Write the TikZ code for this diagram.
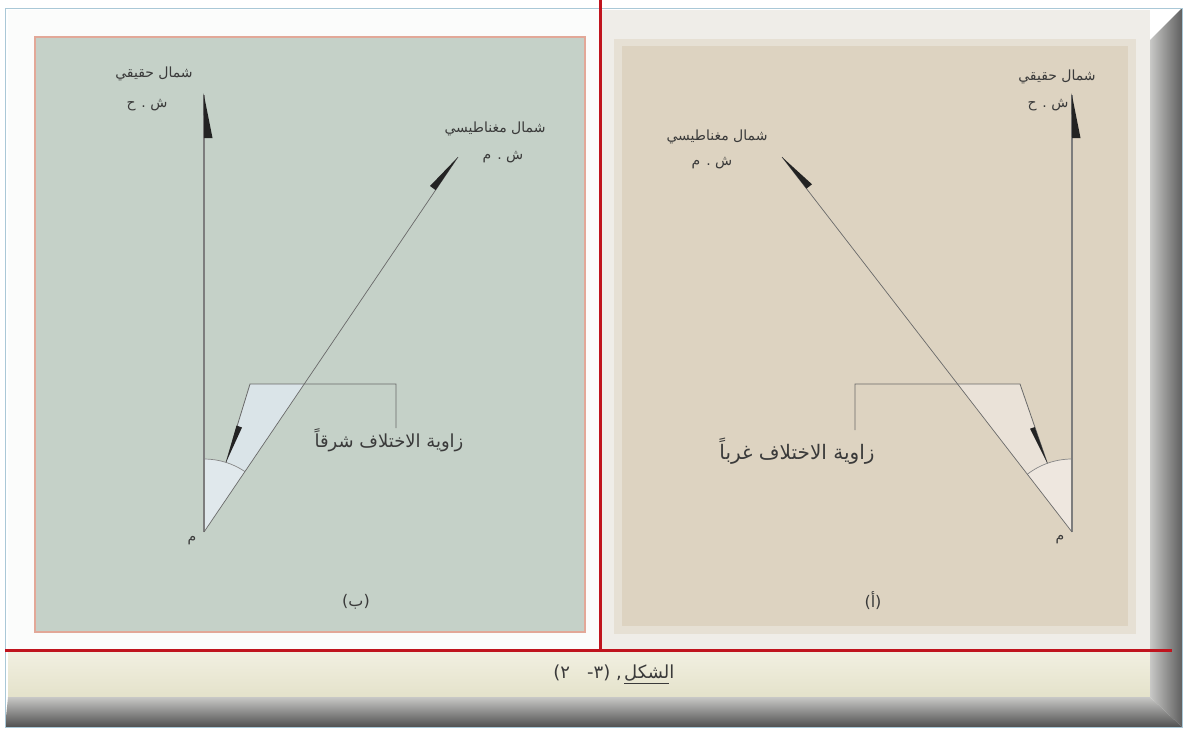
\documentclass[tikz,border=0pt]{standalone}
\usepackage{fontspec}
\usetikzlibrary{calc}
\TeXXeTstate=1
\newfontfamily\arabicfont[Script=Arabic]{DejaVu Sans}
\newfontfamily\punctfont{DejaVu Sans}
\definecolor{panelL}{RGB}{197,209,200}
\definecolor{panelLborder}{RGB}{226,168,152}
\definecolor{panelR}{RGB}{221,211,193}
\definecolor{panelRrim}{RGB}{230,224,212}
\definecolor{bgL}{RGB}{251,252,251}
\definecolor{bgR}{RGB}{239,237,232}
\definecolor{redline}{RGB}{192,20,30}
\definecolor{wedgeL}{RGB}{218,228,232}
\definecolor{wedgeLs}{RGB}{224,232,236}
\definecolor{wedgeR}{RGB}{234,226,216}
\definecolor{wedgeRs}{RGB}{238,231,223}
\definecolor{linegray}{RGB}{105,105,105}
\definecolor{northgray}{RGB}{125,125,125}
\definecolor{txt}{RGB}{58,58,58}
\definecolor{headcol}{RGB}{35,35,35}
\definecolor{cream1}{RGB}{242,240,226}
\definecolor{cream2}{RGB}{228,226,202}
\definecolor{bevel1}{RGB}{200,200,198}
\definecolor{bevel2}{RGB}{95,95,95}
\definecolor{bevel3}{RGB}{80,80,80}
\definecolor{frameblue}{RGB}{170,200,215}
\begin{document}
\begin{tikzpicture}[x=1pt,y=-1pt,
  lbl/.style={text=txt, font=\arabicfont\fontsize{14}{16}\selectfont, inner sep=0pt},
  anglbl/.style={text=txt, font=\arabicfont\fontsize{18}{20}\selectfont, inner sep=0pt},
  biglbl/.style={text=txt, font=\arabicfont\fontsize{16}{18}\selectfont, inner sep=0pt},
  caplbl/.style={text=txt, font=\arabicfont\fontsize{18}{20}\selectfont, inner sep=0pt},
  northline/.style={draw=northgray, line width=1.2pt},
  magline/.style={draw=linegray, line width=0.7pt},
  leadline/.style={draw=linegray, line width=0.8pt},
  arcline/.style={draw=linegray!80, line width=0.7pt},
  headfill/.style={fill=headcol},
  redrule/.style={draw=redline, line width=3pt}
]
\useasboundingbox (0,0) rectangle (1186,731);
\fill[white] (0,0) rectangle (1186,731);
% faces
\fill[bgL] (8,10) rectangle (600,650);
\fill[bgR] (600,10) rectangle (1150,650);
\shade[top color=cream1,bottom color=cream2] (8,650) rectangle (1150,697);
% bevels
\shade[left color=bevel1,right color=bevel2] (1150,40) -- (1182,8) -- (1182,727) -- (1150,697) -- cycle;
\shade[top color=bevel1,bottom color=bevel3] (8,697) -- (1150,697) -- (1182,727) -- (5,727) -- cycle;
\draw[frameblue, line width=1pt] (5,8) rectangle (1182,727);

% panels
\fill[panelRrim] (614,39) rectangle (1136,634);
\fill[panelR] (622,46) rectangle (1128,626);
\fill[panelL] (35,37) rectangle (585,632);
\draw[panelLborder, line width=1.5pt] (35,37) rectangle (585,632);

% red rules
\coordinate (rv1) at (600,0);
\coordinate (rv2) at (600,650);
\coordinate (rh1) at (5,650);
\coordinate (rh2) at (1172,650);
\draw[redrule] (rv1) -- (rv2);
\draw[redrule] (rh1) -- (rh2);

%%%% LEFT DIAGRAM (b)
\coordinate (O1) at (204,532);
\coordinate (T1) at (204,95);
\coordinate (M1) at (458,157);
\coordinate (B1a) at (396,428);
\coordinate (B1b) at (396,384);
\coordinate (B1c) at (250,384);
\coordinate (L1) at (226,462.4);
\coordinate (X1) at (304.2,384);
\coordinate (A1) at (244.9,471.5);
\fill[wedgeLs] (O1) -- ++(0,-73) arc[start angle=-90,end angle=-55.9,radius=73] -- cycle;
\fill[wedgeL] (B1c) -- (X1) -- (A1) arc[start angle=-55.9,end angle=-72.5,radius=73] -- cycle;
\draw[arcline] (O1) ++(0,-73) arc[start angle=-90,end angle=-55.9,radius=73];
\draw[northline] (O1) -- (T1);
\draw[magline] (O1) -- (M1);
\draw[leadline] (B1a) -- (B1b) -- (B1c) -- (L1);
\fill[headfill] (203.5,93) -- (212.5,138) -- (204,138) -- cycle;
\fill[headfill] (M1) -- (430,186) -- (435.6,190.1) -- cycle;
\fill[headfill] (L1) -- (236.5,425.5) -- (242,427.5) -- cycle;
\node[lbl] (tnL) at (154,74) {\beginR شمال حقيقي\endR};
\node[lbl] (tnLs) at (147,105) {\beginR ش . ح\endR};
\node[lbl] (mnL) at (495,129) {\beginR شمال مغناطيسي\endR};
\node[lbl] (mnLs) at (503,157) {\beginR ش . م\endR};
\node[anglbl] (angL) at (389,440) {\beginR زاوية الاختلاف شرقاً\endR};
\node[lbl] (oL) at (192,541) {م};
\node[biglbl] (capL) at (356,602) {\beginR (ب)\endR};

%%%% RIGHT DIAGRAM (a)
\coordinate (O2) at (1072,532);
\coordinate (T2) at (1072,95);
\coordinate (M2) at (782,157);
\coordinate (B2a) at (855,430);
\coordinate (B2b) at (855,384);
\coordinate (B2c) at (1020,384);
\coordinate (L2) at (1047.4,463.3);
\coordinate (X2) at (957.5,384);
\coordinate (A2) at (1027.4,474.2);
\fill[wedgeRs] (O2) -- ++(0,-73) arc[start angle=-90,end angle=-127.7,radius=73] -- cycle;
\fill[wedgeR] (X2) -- (B2c) -- (L2) arc[start angle=-109.7,end angle=-127.7,radius=73] -- cycle;
\draw[arcline] (O2) ++(0,-73) arc[start angle=-90,end angle=-127.7,radius=73];
\draw[northline] (O2) -- (T2);
\draw[magline] (O2) -- (M2);
\draw[leadline] (B2a) -- (B2b) -- (B2c) -- (L2);
\fill[headfill] (1071.5,93) -- (1080.5,138) -- (1072,138) -- cycle;
\fill[headfill] (M2) -- (812,184.3) -- (806.5,188.6) -- cycle;
\fill[headfill] (L2) -- (1034.7,427.1) -- (1030,428.7) -- cycle;
\node[lbl] (tnR) at (1057,77) {\beginR شمال حقيقي\endR};
\node[lbl] (tnRs) at (1048,105) {\beginR ش . ح\endR};
\node[lbl] (mnR) at (717,137) {\beginR شمال مغناطيسي\endR};
\node[lbl] (mnRs) at (712,163) {\beginR ش . م\endR};
\node[anglbl, font=\arabicfont\fontsize{20}{22}\selectfont] (angR) at (797,451) {\beginR زاوية الاختلاف غرباً\endR};
\node[lbl] (oR) at (1060,540) {م};
\node[biglbl] (capR) at (873,601) {\beginR (أ)\endR};

%%%% caption
\node[caplbl, anchor=east] (figA) at (622,673) {\hbox{\punctfont(}\hbox{\arabicfont ٢}\hbox{\ \ \ }\hbox{\punctfont -}\hbox{\arabicfont ٣}\hbox{\punctfont)}\hbox{\ \punctfont,}};
\node[caplbl, anchor=west] (figB) at (624,673) {الشكل};
\draw[txt, line width=0.7pt] ([yshift=-2pt]figB.south west) -- ([yshift=-2pt,xshift=-6pt]figB.south east);
\end{tikzpicture}
\end{document}
